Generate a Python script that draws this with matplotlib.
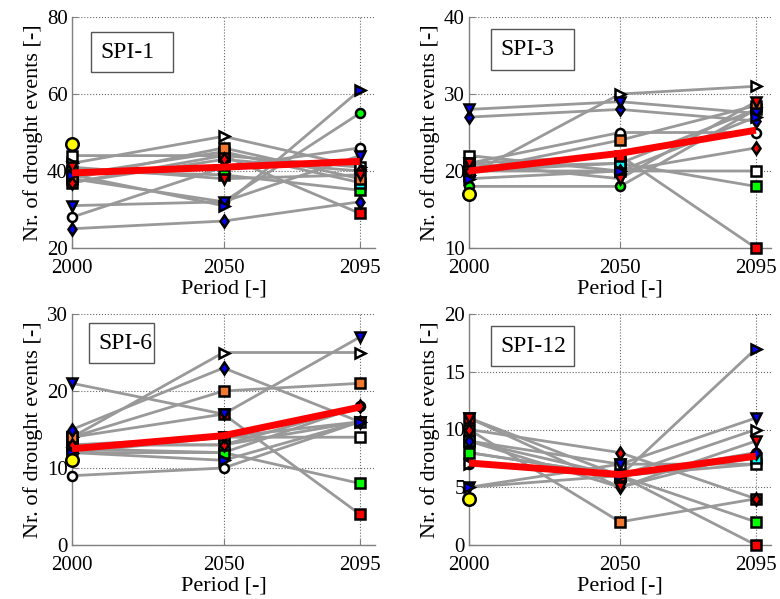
import matplotlib
matplotlib.use('Agg')
import matplotlib.pyplot as plt
from matplotlib.patches import Rectangle

# ---------------- data ----------------
periods = [2000, 2050, 2095]
xtick_labels = ['2000', '2050', '2095']
panel_titles = ['SPI-1', 'SPI-3', 'SPI-6', 'SPI-12']

model_markers = ['o', 's', '>', 'o', 's', 's', 's', 's', 'd', 'd', 'v', 'v', '>']
model_faces = ['white', 'white', 'white', '#00ff00', '#00ff00', '#00ffff', '#ff0000',
               '#f07830', '#0000ff', '#ff0000', '#0000ff', '#ff0000', '#0000ff']

# each row: one model, values at 2000, 2050, 2095
spi1_models = [[28, 41, 46], [44, 44, 41], [42, 49, 41], [38, 32, 55], [40, 39, 35],
               [39, 45, 37], [37, 44, 29], [38, 46, 38], [25, 27, 32], [37, 43, 40],
               [31, 32, 44], [41, 38, 39], [39, 31, 61]]
spi3_models = [[21, 25, 25], [22, 20, 20], [19.5, 30, 31], [18, 18, 28], [20, 21, 18],
               [20.5, 21, 28], [21, 22, 10], [20, 24, 28.5], [27, 28, 26.5], [20, 20, 23],
               [28, 29, 27.5], [21, 19, 29], [19, 20, 27]]
spi6_models = [[9, 10, 16], [13, 14, 14], [14, 25, 25], [12, 12, 18], [12.5, 12, 8],
               [13, 13, 16], [14, 17, 4], [14, 20, 21], [15, 23, 16], [13, 13, 18],
               [21, 17, 27], [12, 14, 16], [12, 11, 16]]
spi12_models = [[7, 6, 7], [9, 7, 7], [7, 6, 10], [8, 6, 8], [8, 6, 2],
                [9, 6, 7.5], [11, 6, 0], [10, 2, 4], [9, 5, 8], [10, 8, 4],
                [5, 7, 11], [11, 5, 9], [5, 6, 17]]

obs_2000 = [47, 17, 11, 4]
mean_spi1 = [39.5, 41, 42.5]
mean_spi3 = [20, 22.3, 25.3]
mean_spi6 = [12.5, 14.2, 17.9]
mean_spi12 = [7.1, 6.1, 7.7]

ylims = [(20, 80), (10, 40), (0, 30), (0, 20)]
yticks = [[20, 40, 60, 80], [10, 20, 30, 40], [0, 10, 20, 30], [0, 5, 10, 15, 20]]

all_models = [spi1_models, spi3_models, spi6_models, spi12_models]
all_means = [mean_spi1, mean_spi3, mean_spi6, mean_spi12]

# ---------------- layout ----------------
plt.rcParams['font.family'] = ['Liberation Serif', 'DejaVu Serif']
W, H = 780, 599
fig = plt.figure(figsize=(W / 100, H / 100), dpi=100)

ax_px = [(72, 17, 375, 248), (469, 17, 771, 248), (72, 314, 375, 545), (469, 314, 771, 545)]
box_px = [(91, 32, 173, 72), (491, 29, 574, 70), (89, 323, 154, 363), (491, 326, 574, 366)]

gray_spine = '#808080'
for i in range(4):
    l, t, r, b = ax_px[i]
    ax = fig.add_axes([l / W, 1 - b / H, (r - l) / W, (b - t) / H])
    ax.set_xlim(2000, 2100)
    ax.set_ylim(*ylims[i])
    ax.set_xticks(periods)
    ax.set_xticklabels(xtick_labels)
    ax.set_yticks(yticks[i])
    ax.tick_params(labelsize=15, direction='in', length=4, color=gray_spine)
    ax.tick_params(axis='y', pad=3)
    ax.tick_params(axis='x', pad=8)
    for s in ['top', 'right']:
        ax.spines[s].set_visible(False)
    for s in ['left', 'bottom']:
        ax.spines[s].set_color(gray_spine)
        ax.spines[s].set_linewidth(1.0)
    ax.grid(True, linestyle=':', color='#666666', linewidth=0.8)
    ax.set_axisbelow(True)

    models = all_models[i]
    for vals in models:
        ax.plot(periods, vals, color='#999999', lw=2.0, zorder=2, clip_on=False)
    for vals, mk, fc in zip(models, model_markers, model_faces):
        ax.plot(periods, vals, linestyle='none', marker=mk, markersize=6.5,
                markerfacecolor=fc, markeredgecolor='black', markeredgewidth=1.8,
                zorder=3, clip_on=False)
    ax.plot(periods, all_means[i], color='#ff0000', lw=5, zorder=4,
            solid_capstyle='butt', clip_on=False)
    ax.plot([periods[0]], [obs_2000[i]], linestyle='none', marker='o', markersize=9,
            markerfacecolor='#ffff00', markeredgecolor='black', markeredgewidth=1.8,
            zorder=5, clip_on=False)

    ax.set_xlabel('Period [-]', fontsize=16, labelpad=1)
    ax.set_ylabel('Nr. of drought events [-]', fontsize=16, labelpad=3)

    bl, bt, br, bb = box_px[i]
    fx0 = (bl - l) / (r - l)
    fx1 = (br - l) / (r - l)
    fy1 = 1 - (bt - t) / (b - t)
    fy0 = 1 - (bb - t) / (b - t)
    ax.add_patch(Rectangle((fx0, fy0), fx1 - fx0, fy1 - fy0, transform=ax.transAxes,
                           facecolor='white', edgecolor='#555555', lw=1.0, zorder=6))
    ax.text(fx0 + 9 / (r - l), (fy0 + fy1) / 2, panel_titles[i], transform=ax.transAxes,
            fontsize=17, ha='left', va='center', zorder=7)

fig.savefig('out.png', dpi=100)
